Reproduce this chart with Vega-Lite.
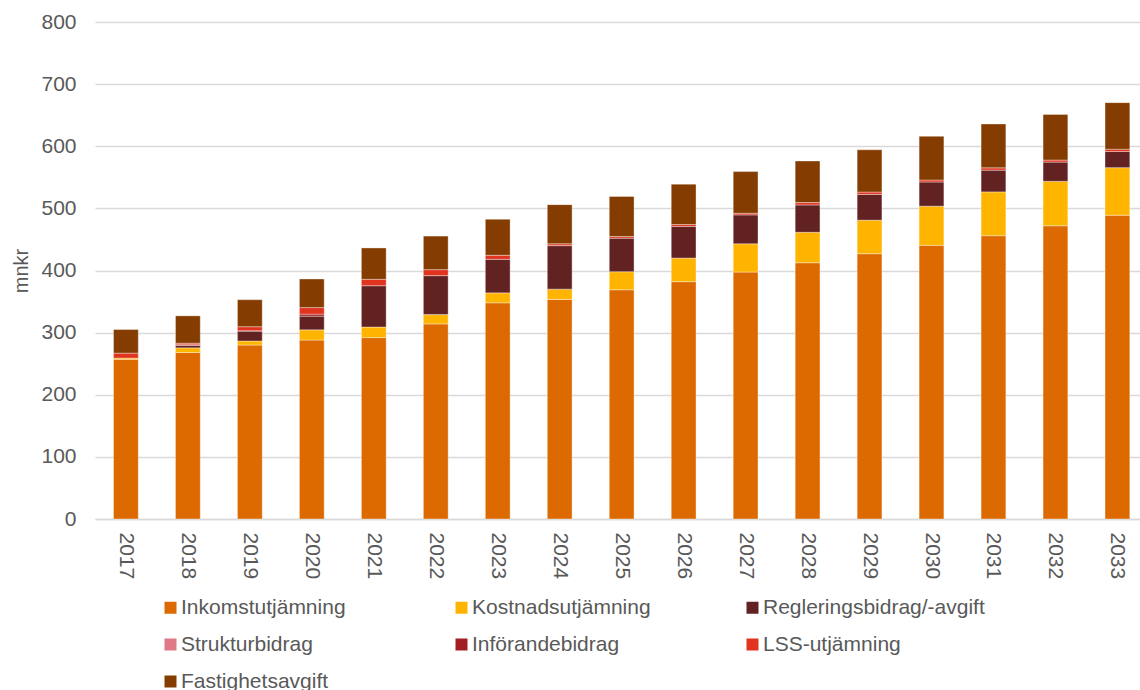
{
  "$schema": "https://vega.github.io/schema/vega-lite/v6.json",
  "width": 1045,
  "height": 497,
  "autosize": {"type": "none"},
  "padding": {"left": 95, "top": 22, "right": 0, "bottom": 171},
  "background": "white",
  "config": {
    "font": "Liberation Sans",
    "view": {"stroke": null},
    "axis": {"labelFont": "Liberation Sans", "titleFont": "Liberation Sans", "labelColor": "#595959", "titleColor": "#595959", "labelFontSize": 21, "titleFontSize": 20, "titleFontWeight": "normal"},
    "legend": {"labelFont": "Liberation Sans", "labelColor": "#595959", "labelFontSize": 21}
  },
  "data": {"values": [
    {"year": "2017", "cat": "Inkomstutjämning", "o": 1, "value": 257},
    {"year": "2017", "cat": "Kostnadsutjämning", "o": 2, "value": 2},
    {"year": "2017", "cat": "LSS-utjämning", "o": 6, "value": 8},
    {"year": "2017", "cat": "Fastighetsavgift", "o": 7, "value": 38},
    {"year": "2018", "cat": "Inkomstutjämning", "o": 1, "value": 268},
    {"year": "2018", "cat": "Kostnadsutjämning", "o": 2, "value": 7.5},
    {"year": "2018", "cat": "Regleringsbidrag/-avgift", "o": 3, "value": 4},
    {"year": "2018", "cat": "Införandebidrag", "o": 5, "value": 1},
    {"year": "2018", "cat": "LSS-utjämning", "o": 6, "value": 2.5},
    {"year": "2018", "cat": "Fastighetsavgift", "o": 7, "value": 44},
    {"year": "2019", "cat": "Inkomstutjämning", "o": 1, "value": 280},
    {"year": "2019", "cat": "Kostnadsutjämning", "o": 2, "value": 6.5},
    {"year": "2019", "cat": "Regleringsbidrag/-avgift", "o": 3, "value": 16},
    {"year": "2019", "cat": "Införandebidrag", "o": 5, "value": 0.5},
    {"year": "2019", "cat": "LSS-utjämning", "o": 6, "value": 6.5},
    {"year": "2019", "cat": "Fastighetsavgift", "o": 7, "value": 43.5},
    {"year": "2020", "cat": "Inkomstutjämning", "o": 1, "value": 288},
    {"year": "2020", "cat": "Kostnadsutjämning", "o": 2, "value": 16.5},
    {"year": "2020", "cat": "Regleringsbidrag/-avgift", "o": 3, "value": 22},
    {"year": "2020", "cat": "Införandebidrag", "o": 5, "value": 3.3},
    {"year": "2020", "cat": "LSS-utjämning", "o": 6, "value": 10.5},
    {"year": "2020", "cat": "Fastighetsavgift", "o": 7, "value": 46},
    {"year": "2021", "cat": "Inkomstutjämning", "o": 1, "value": 292},
    {"year": "2021", "cat": "Kostnadsutjämning", "o": 2, "value": 17},
    {"year": "2021", "cat": "Regleringsbidrag/-avgift", "o": 3, "value": 66.5},
    {"year": "2021", "cat": "LSS-utjämning", "o": 6, "value": 10.3},
    {"year": "2021", "cat": "Fastighetsavgift", "o": 7, "value": 50.5},
    {"year": "2022", "cat": "Inkomstutjämning", "o": 1, "value": 314},
    {"year": "2022", "cat": "Kostnadsutjämning", "o": 2, "value": 15},
    {"year": "2022", "cat": "Regleringsbidrag/-avgift", "o": 3, "value": 62.7},
    {"year": "2022", "cat": "LSS-utjämning", "o": 6, "value": 9.7},
    {"year": "2022", "cat": "Fastighetsavgift", "o": 7, "value": 54},
    {"year": "2023", "cat": "Inkomstutjämning", "o": 1, "value": 348},
    {"year": "2023", "cat": "Kostnadsutjämning", "o": 2, "value": 16},
    {"year": "2023", "cat": "Regleringsbidrag/-avgift", "o": 3, "value": 54},
    {"year": "2023", "cat": "LSS-utjämning", "o": 6, "value": 6.5},
    {"year": "2023", "cat": "Fastighetsavgift", "o": 7, "value": 58},
    {"year": "2024", "cat": "Inkomstutjämning", "o": 1, "value": 353.5},
    {"year": "2024", "cat": "Kostnadsutjämning", "o": 2, "value": 16.5},
    {"year": "2024", "cat": "Regleringsbidrag/-avgift", "o": 3, "value": 70},
    {"year": "2024", "cat": "LSS-utjämning", "o": 6, "value": 3},
    {"year": "2024", "cat": "Fastighetsavgift", "o": 7, "value": 63},
    {"year": "2025", "cat": "Inkomstutjämning", "o": 1, "value": 369},
    {"year": "2025", "cat": "Kostnadsutjämning", "o": 2, "value": 29},
    {"year": "2025", "cat": "Regleringsbidrag/-avgift", "o": 3, "value": 54},
    {"year": "2025", "cat": "LSS-utjämning", "o": 6, "value": 2.7},
    {"year": "2025", "cat": "Fastighetsavgift", "o": 7, "value": 64.5},
    {"year": "2026", "cat": "Inkomstutjämning", "o": 1, "value": 382},
    {"year": "2026", "cat": "Kostnadsutjämning", "o": 2, "value": 38},
    {"year": "2026", "cat": "Regleringsbidrag/-avgift", "o": 3, "value": 51},
    {"year": "2026", "cat": "LSS-utjämning", "o": 6, "value": 3},
    {"year": "2026", "cat": "Fastighetsavgift", "o": 7, "value": 65},
    {"year": "2027", "cat": "Inkomstutjämning", "o": 1, "value": 397.5},
    {"year": "2027", "cat": "Kostnadsutjämning", "o": 2, "value": 45.5},
    {"year": "2027", "cat": "Regleringsbidrag/-avgift", "o": 3, "value": 46.5},
    {"year": "2027", "cat": "LSS-utjämning", "o": 6, "value": 2.7},
    {"year": "2027", "cat": "Fastighetsavgift", "o": 7, "value": 67},
    {"year": "2028", "cat": "Inkomstutjämning", "o": 1, "value": 412.5},
    {"year": "2028", "cat": "Kostnadsutjämning", "o": 2, "value": 49},
    {"year": "2028", "cat": "Regleringsbidrag/-avgift", "o": 3, "value": 44},
    {"year": "2028", "cat": "LSS-utjämning", "o": 6, "value": 3.8},
    {"year": "2028", "cat": "Fastighetsavgift", "o": 7, "value": 67},
    {"year": "2029", "cat": "Inkomstutjämning", "o": 1, "value": 427},
    {"year": "2029", "cat": "Kostnadsutjämning", "o": 2, "value": 54},
    {"year": "2029", "cat": "Regleringsbidrag/-avgift", "o": 3, "value": 41.5},
    {"year": "2029", "cat": "LSS-utjämning", "o": 6, "value": 3.8},
    {"year": "2029", "cat": "Fastighetsavgift", "o": 7, "value": 68},
    {"year": "2030", "cat": "Inkomstutjämning", "o": 1, "value": 440.5},
    {"year": "2030", "cat": "Kostnadsutjämning", "o": 2, "value": 63},
    {"year": "2030", "cat": "Regleringsbidrag/-avgift", "o": 3, "value": 39},
    {"year": "2030", "cat": "LSS-utjämning", "o": 6, "value": 3.2},
    {"year": "2030", "cat": "Fastighetsavgift", "o": 7, "value": 70.3},
    {"year": "2031", "cat": "Inkomstutjämning", "o": 1, "value": 456},
    {"year": "2031", "cat": "Kostnadsutjämning", "o": 2, "value": 70.5},
    {"year": "2031", "cat": "Regleringsbidrag/-avgift", "o": 3, "value": 35},
    {"year": "2031", "cat": "LSS-utjämning", "o": 6, "value": 3.7},
    {"year": "2031", "cat": "Fastighetsavgift", "o": 7, "value": 70.7},
    {"year": "2032", "cat": "Inkomstutjämning", "o": 1, "value": 472},
    {"year": "2032", "cat": "Kostnadsutjämning", "o": 2, "value": 71.5},
    {"year": "2032", "cat": "Regleringsbidrag/-avgift", "o": 3, "value": 31},
    {"year": "2032", "cat": "LSS-utjämning", "o": 6, "value": 3.3},
    {"year": "2032", "cat": "Fastighetsavgift", "o": 7, "value": 73.5},
    {"year": "2033", "cat": "Inkomstutjämning", "o": 1, "value": 489},
    {"year": "2033", "cat": "Kostnadsutjämning", "o": 2, "value": 76.5},
    {"year": "2033", "cat": "Regleringsbidrag/-avgift", "o": 3, "value": 26},
    {"year": "2033", "cat": "LSS-utjämning", "o": 6, "value": 3.7},
    {"year": "2033", "cat": "Fastighetsavgift", "o": 7, "value": 75}
  ]},
  "mark": {"type": "bar", "stroke": "#ffffff", "strokeWidth": 0.6, "strokeOpacity": 0.6},
  "encoding": {
    "x": {
      "field": "year", "type": "ordinal", "title": null,
      "scale": {"paddingInner": 0.6, "paddingOuter": 0.2315, "align": 0.645},
      "axis": {"labelAngle": 90, "ticks": false, "labelPadding": 13, "domainColor": "#d9d9d9", "domainWidth": 1.5, "grid": false}
    },
    "y": {
      "field": "value", "type": "quantitative", "stack": "zero", "title": "mnkr",
      "scale": {"domain": [0, 800], "nice": false},
      "axis": {"values": [0, 100, 200, 300, 400, 500, 600, 700, 800], "ticks": false, "domain": false, "labelPadding": 19, "gridColor": "#d9d9d9", "gridWidth": 1.4, "titlePadding": 9}
    },
    "color": {
      "field": "cat", "type": "nominal", "title": null,
      "scale": {
        "domain": ["Inkomstutjämning", "Kostnadsutjämning", "Regleringsbidrag/-avgift", "Strukturbidrag", "Införandebidrag", "LSS-utjämning", "Fastighetsavgift"],
        "range": ["#DC6A00", "#FFB400", "#632222", "#E07888", "#A11E22", "#E0341F", "#843C00"]
      },
      "legend": {"orient": "none", "direction": "horizontal", "legendX": 65, "legendY": 575, "padding": 0, "columns": 3, "gridAlign": "all", "columnPadding": 48, "rowPadding": 15, "symbolType": "square", "symbolSize": 144, "symbolStrokeWidth": 0, "labelOffset": 0, "labelLimit": 400}
    },
    "order": {"field": "o", "type": "quantitative"}
  }
}
